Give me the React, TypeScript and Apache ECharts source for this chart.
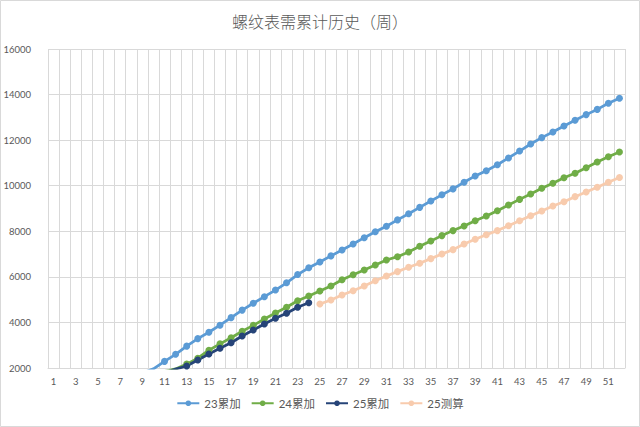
import React, { useEffect, useRef } from "react";
import * as echarts from "echarts";

const weeks: string[] = Array.from({ length: 52 }, (_, i) => String(i + 1));

const titleText = "螺纹表需累计历史（周）";
const seriesNames = ["23累加", "24累加", "25累加", "25测算"];
const seriesColors = ["#5B9BD5", "#70AD47", "#264478", "#F8CBAD"];

const yTicks = { min: 2000, max: 16000, step: 2000 };

const s23: (number | null)[] = [
  170, 380, 590, 800, 1000, 1200, 1400, 1590, 1780, 1960,
  2290, 2600, 2960, 3290, 3570, 3880, 4210, 4540, 4840, 5130,
  5420, 5740, 6100, 6400, 6650, 6920, 7180, 7440, 7720, 7980,
  8220, 8500, 8770, 9050, 9330, 9600, 9860, 10150, 10430, 10660,
  10920, 11220, 11520, 11830, 12110, 12360, 12620, 12870, 13120, 13350,
  13620, 13840,
];

const s24: (number | null)[] = [
  140, 310, 490, 670, 850, 1030, 1210, 1380, 1550, 1720,
  1850, 1960, 2170, 2430, 2780, 3060, 3330, 3610, 3870, 4150,
  4410, 4665, 4950, 5160, 5380, 5600, 5876, 6095, 6300, 6520,
  6740, 6885, 7090, 7340, 7575, 7810, 8030, 8230, 8465, 8670,
  8900, 9150, 9400, 9640, 9890, 10110, 10350, 10545, 10790, 11040,
  11270, 11480,
];

const s25: (number | null)[] = [
  130, 300, 470, 640, 810, 980, 1150, 1320, 1490, 1650,
  1790, 1950, 2088, 2351, 2614, 2865, 3110, 3404, 3668, 3931,
  4181, 4401, 4664, 4866, null, null, null, null, null, null,
  null, null, null, null, null, null, null, null, null, null,
  null, null, null, null, null, null, null, null, null, null,
  null, null,
];

const s25est: (number | null)[] = [
  null, null, null, null, null, null, null, null, null, null,
  null, null, null, null, null, null, null, null, null, null,
  null, null, null, null, 4810, 4985, 5200, 5390, 5600, 5830,
  6040, 6230, 6420, 6600, 6800, 7000, 7195, 7440, 7650, 7850,
  8030, 8245, 8465, 8680, 8890, 9110, 9300, 9520, 9725, 9930,
  10150, 10360,
];

const seriesData = [s23, s24, s25, s25est];

const textColor = "#595959";
const gridColor = "#D9D9D9";
const numFont = "Lato, 'Noto Sans CJK SC', sans-serif";
const cjkFont = "'Noto Sans CJK SC', sans-serif";

export default function App() {
  const ref = useRef<HTMLDivElement>(null);

  useEffect(() => {
    if (!ref.current) return;
    const chart = echarts.init(ref.current, null, { renderer: "svg" });
    chart.setOption({
      animation: false,
      backgroundColor: "#ffffff",
      title: {
        text: titleText,
        left: "center",
        top: 8,
        textStyle: {
          fontSize: 16,
          fontWeight: 300,
          color: textColor,
          fontFamily: cjkFont,
        },
      },
      grid: { left: 48, right: 15, top: 49, bottom: 59 },
      legend: {
        bottom: 13,
        left: "center",
        itemWidth: 22,
        itemHeight: 7,
        itemGap: 10,
        data: seriesNames,
        textStyle: { color: textColor, fontSize: 11.5, fontFamily: numFont },
      },
      xAxis: {
        type: "category",
        data: weeks,
        boundaryGap: true,
        axisLine: { show: true, lineStyle: { color: gridColor } },
        axisTick: { show: false },
        axisLabel: {
          interval: 1,
          color: textColor,
          fontSize: 9.5,
          margin: 9,
          fontFamily: numFont,
        },
        splitLine: { show: true, interval: 0, lineStyle: { color: gridColor, width: 1 } },
      },
      yAxis: {
        type: "value",
        min: yTicks.min,
        max: yTicks.max,
        interval: yTicks.step,
        axisLine: { show: false },
        axisTick: { show: false },
        axisLabel: {
          color: textColor,
          fontSize: 9.5,
          margin: 17,
          fontFamily: numFont,
          formatter: (v: number) => String(v),
        },
        splitLine: { show: true, lineStyle: { color: gridColor, width: 1 } },
      },
      graphic: [
        {
          type: "rect",
          shape: { x: 0.5, y: 0.5, width: 639, height: 426 },
          style: { fill: "none", stroke: gridColor, lineWidth: 1 },
          silent: true,
        },
      ],
      series: seriesNames.map((name, i) => ({
        name,
        type: "line",
        data: seriesData[i],
        symbol: "circle",
        symbolSize: 7,
        showSymbol: true,
        clip: true,
        connectNulls: false,
        lineStyle: { width: 2.75, color: seriesColors[i] },
        itemStyle: { color: seriesColors[i] },
        emphasis: { disabled: true },
      })),
    });
    return () => chart.dispose();
  }, []);

  return (
    <div
      ref={ref}
      style={{ position: "absolute", left: 0, top: 0, width: 640, height: 427 }}
    />
  );
}
